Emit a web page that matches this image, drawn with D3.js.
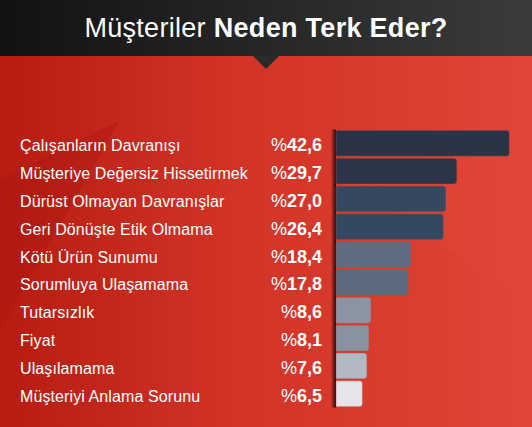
<!DOCTYPE html>
<html>
<head>
<meta charset="utf-8">
<script src="https://cdn.jsdelivr.net/npm/d3@7"></script>
<style>
  html, body { margin: 0; padding: 0; background: #c92b1f; }
  svg { display: block; font-family: "Liberation Sans", Arial, sans-serif; }
</style>
</head>
<body>
<div id="wrapper"></div>
<script>
// veriler
const reasons = ["Çalışanların Davranışı", "Müşteriye Değersiz Hissetirmek", "Dürüst Olmayan Davranışlar",
                 "Geri Dönüşte Etik Olmama", "Kötü Ürün Sunumu", "Sorumluya Ulaşamama",
                 "Tutarsızlık", "Fiyat", "Ulaşılamama", "Müşteriyi Anlama Sorunu"];
const percents = [42.6, 29.7, 27.0, 26.4, 18.4, 17.8, 8.6, 8.1, 7.6, 6.5];
const barColors = ["#2a3446", "#2b3548", "#35485f", "#34485f", "#5d6c7e",
                   "#5b6a7c", "#8a95a3", "#8893a1", "#b0b9c4", "#e6e4ea"];

function build() {
    const width = 532, height = 427;

    const data = reasons.map((r, i) => ({ label: r, value: percents[i], color: barColors[i] }));

    const svg = d3.select("#wrapper")
        .append("svg")
        .attr("width", width)
        .attr("height", height);

    const defs = svg.append("defs");

    const redGrad = defs.append("linearGradient").attr("id", "red")
        .attr("x1", "0%").attr("x2", "100%").attr("y1", "0%").attr("y2", "0%");
    redGrad.append("stop").attr("offset", "0%").attr("stop-color", "#b61c12");
    redGrad.append("stop").attr("offset", "45%").attr("stop-color", "#d23427");
    redGrad.append("stop").attr("offset", "100%").attr("stop-color", "#df4538");

    const darkGrad = defs.append("linearGradient").attr("id", "dark")
        .attr("x1", "0%").attr("x2", "100%").attr("y1", "0%").attr("y2", "0%");
    darkGrad.append("stop").attr("offset", "0%").attr("stop-color", "#121212");
    darkGrad.append("stop").attr("offset", "100%").attr("stop-color", "#3b3b3b");

    const shadowGrad = defs.append("linearGradient").attr("id", "shadow")
        .attr("x1", "0%").attr("x2", "100%").attr("y1", "0%").attr("y2", "0%");
    shadowGrad.append("stop").attr("offset", "0%").attr("stop-color", "#000").attr("stop-opacity", 0);
    shadowGrad.append("stop").attr("offset", "100%").attr("stop-color", "#000").attr("stop-opacity", 0.9);

    // arka plan
    svg.append("rect").attr("width", width).attr("height", height).attr("fill", "url(#red)");
    // hafif köşeli desen
    svg.append("path")
        .attr("d", "M0,180 L120,120 L0,330 Z")
        .attr("fill", "#a8150d").attr("opacity", 0.35);
    svg.append("path")
        .attr("d", "M330,180 L532,130 L532,300 Z")
        .attr("fill", "#e85040").attr("opacity", 0.18);

    // başlık bandı
    svg.append("rect").attr("width", width).attr("height", 56).attr("fill", "url(#dark)");
    svg.append("path")
        .attr("d", "M253,56 L279,56 L266,69 Z")
        .attr("fill", "#2a2a2a");

    const title = svg.append("text")
        .attr("x", 266).attr("y", 37)
        .attr("text-anchor", "middle")
        .attr("fill", "#fff")
        .style("font-size", "27px")
        .style("letter-spacing", "0.3px");
    title.append("tspan").text("Müşteriler ");
    title.append("tspan").style("font-weight", "bold").text("Neden Terk Eder?");

    const x = d3.scaleLinear()
        .domain([0, 43])
        .range([336, 511]);

    const y = d3.scaleBand()
        .domain(reasons)
        .range([129.5, 407.5])
        .paddingInner(0.07)
        .paddingOuter(0.03);

    // barların solundaki gölge
    svg.append("rect")
        .attr("x", 331).attr("y", y.range()[0])
        .attr("width", 5).attr("height", y.range()[1] - y.range()[0])
        .attr("fill", "url(#shadow)");

    svg.append("g")
        .selectAll("path")
        .data(data)
        .enter()
        .append("path")
        .attr("d", d => {
            const x0 = x(0), x1 = x(d.value), y0 = y(d.label), h = y.bandwidth(), r = 3;
            return `M${x0},${y0} H${x1 - r} Q${x1},${y0} ${x1},${y0 + r} V${y0 + h - r} Q${x1},${y0 + h} ${x1 - r},${y0 + h} H${x0} Z`;
        })
        .attr("fill", d => d.color)
        .attr("stroke", "#c14a45")
        .attr("stroke-opacity", 0.6)
        .attr("stroke-width", 0.8);

    svg.append("g")
        .selectAll("text")
        .data(data)
        .enter()
        .append("text")
        .attr("x", 20)
        .attr("y", d => y(d.label) + y.bandwidth() / 2 + 8)
        .attr("fill", "#fff")
        .style("font-size", "16px")
        .style("letter-spacing", "0.1px")
        .text(d => d.label);

    const vals = svg.append("g")
        .selectAll("text")
        .data(data)
        .enter()
        .append("text")
        .attr("x", 322)
        .attr("y", d => y(d.label) + y.bandwidth() / 2 + 8)
        .attr("text-anchor", "end")
        .attr("fill", "#fff")
        .style("font-size", "18px");
    vals.append("tspan").text("%");
    vals.append("tspan").style("font-weight", "bold").text(d => d3.format(".1f")(d.value).replace(".", ","));
}

build();
</script>
</body>
</html>
